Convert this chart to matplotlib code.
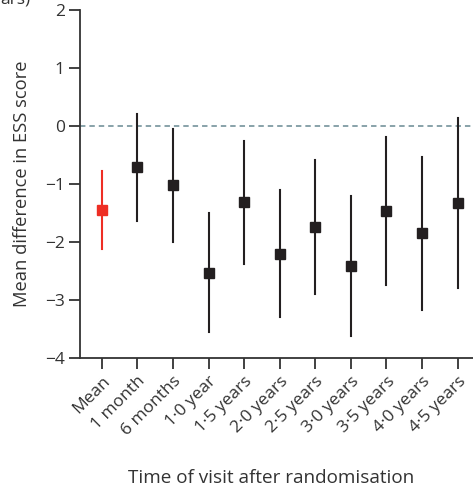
import numpy as np
import matplotlib.pyplot as plt

plt.rcParams['font.family'] = ['Open Sans', 'DejaVu Sans']

labels = ['Mean', '1 month', '6 months', '1·0 year', '1·5 years', '2·0 years',
          '2·5 years', '3·0 years', '3·5 years', '4·0 years', '4·5 years']
est = [-1.45, -0.70, -1.02, -2.53, -1.31, -2.20, -1.74, -2.42, -1.46, -1.84, -1.33]
lower = [-2.12, -1.64, -2.00, -3.55, -2.38, -3.30, -2.89, -3.62, -2.74, -3.17, -2.80]
upper = [-0.77, 0.21, -0.05, -1.50, -0.25, -1.11, -0.58, -1.21, -0.19, -0.53, 0.14]

ink = '#231f20'
red = '#ee2e24'

fig = plt.figure(figsize=(4.73, 4.88), dpi=100)
ax = fig.add_axes([80 / 473, 1 - 358 / 488, 393 / 473, 348 / 488])

x = np.arange(len(labels))
ax.axhline(0, color='#7f9ba3', lw=1.3, ls=(0, (3, 2.2)), zorder=1)
for i in x:
    c = red if i == 0 else ink
    ax.plot([i, i], [lower[i], upper[i]], color=c, lw=1.5, zorder=2)
    ax.plot(i, est[i], 's', color=c, ms=7.8, zorder=3)

ax.set_xlim(-0.61, 10.43)
ax.set_ylim(-4, 2)
ax.set_yticks(range(-4, 3))
ax.set_yticklabels(['−4', '−3', '−2', '−1', '0', '1', '2'])
ax.set_xticks(x)
ax.set_xticklabels(labels, rotation=45, ha='right', rotation_mode='anchor')

for s in ['top', 'right']:
    ax.spines[s].set_visible(False)
for s in ['left', 'bottom']:
    ax.spines[s].set_color('#333333')
    ax.spines[s].set_linewidth(1.3)
ax.tick_params(length=8, width=1.3, color='#333333', labelsize=12.5, labelcolor='#333333', pad=3)

ax.set_ylabel('Mean difference in ESS score', fontsize=13.2, color='#333333', labelpad=10)
fig.text(271 / 473, 1 - 478 / 488, 'Time of visit after randomisation', fontsize=13.6,
         color='#333333', ha='center', va='center')
fig.text(0, 1.0, 'ars)', fontsize=12.5, color='#333333', ha='left', va='center')

fig.savefig('out.png', dpi=100)
